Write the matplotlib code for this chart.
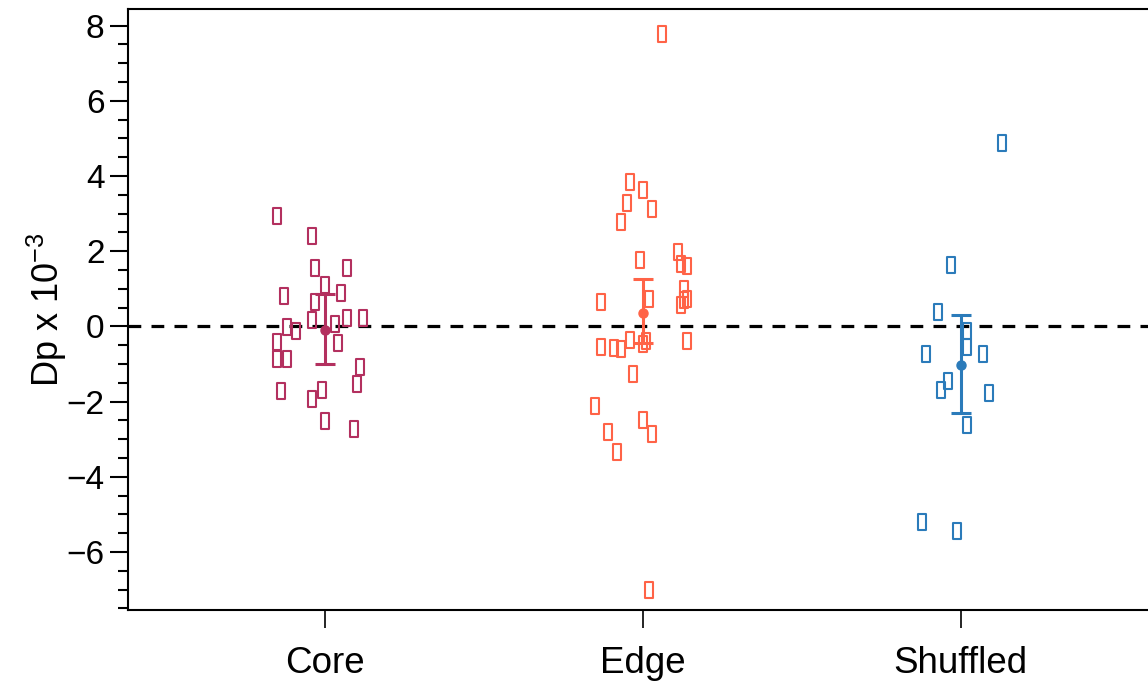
import numpy as np
import matplotlib
matplotlib.use('Agg')
import matplotlib.pyplot as plt
from matplotlib.path import Path

plt.rcParams['font.family'] = ['Liberation Sans', 'DejaVu Sans']
plt.rcParams['mathtext.fontset'] = 'custom'
plt.rcParams['mathtext.rm'] = 'Liberation Sans'
plt.rcParams['mathtext.it'] = 'Liberation Sans:italic'

# groups and colours
groups = ['Core', 'Edge', 'Shuffled']
colors = ['#B3305F', '#FF6347', '#2B7BBA']

# individual values (Dp x 1e-3) and horizontal jitter
core_y = [2.93, 2.40, 1.55, 1.55, 1.09, 0.82, 0.90, 0.66, 0.18, 0.23, 0.22, -0.02, -0.11,
          0.07, -0.42, -0.43, -0.86, -0.86, -1.08, -1.54, -1.72, -1.70, -1.94, -2.52, -2.73]
core_jit = [-0.15, -0.04, -0.03, 0.07, 0.00, -0.13, 0.05, -0.03, -0.04, 0.07, 0.12, -0.12, -0.09,
            0.03, -0.15, 0.04, -0.15, -0.12, 0.11, 0.10, -0.14, -0.01, -0.04, 0.00, 0.09]

edge_y = [7.78, 3.84, 3.62, 3.29, 3.13, 2.77, 1.76, 1.99, 1.67, 1.60, 1.00, 0.66, 0.74, 0.69, 0.74,
          0.58, -0.37, -0.46, -0.39, -0.55, -0.57, -0.59, -0.39, -1.26, -2.11, -2.48, -2.81, -2.85,
          -3.34, -7.00]
edge_jit = [0.06, -0.04, 0.00, -0.05, 0.03, -0.07, -0.01, 0.11, 0.12, 0.14, 0.13, -0.13, 0.02, 0.13,
            0.14, 0.12, -0.04, 0.00, 0.01, -0.13, -0.09, -0.07, 0.14, -0.03, -0.15, 0.00, -0.11, 0.03,
            -0.08, 0.02]

shuf_y = [4.87, 1.62, 0.38, -0.12, -0.55, -0.73, -0.73, -1.44, -1.68, -1.76, -2.61, -5.20, -5.43]
shuf_jit = [0.13, -0.03, -0.07, 0.02, 0.02, -0.11, 0.07, -0.04, -0.06, 0.09, 0.02, -0.12, -0.01]

# summary: mean and error bar limits
means = [-0.10, 0.35, -1.03]
err_low = [-1.01, -0.45, -2.30]
err_high = [0.85, 1.25, 0.31]

values = [core_y, edge_y, shuf_y]
jitters = [core_jit, edge_jit, shuf_jit]

# tall hollow rectangle marker
rect = Path([(-0.5, -1), (0.5, -1), (0.5, 1), (-0.5, 1), (-0.5, -1)],
            [Path.MOVETO, Path.LINETO, Path.LINETO, Path.LINETO, Path.CLOSEPOLY])

fig = plt.figure(figsize=(11.48, 6.81), dpi=100)
ax = fig.add_axes([128 / 1148, 71 / 681, 1 - 128 / 1148, 601 / 681])

ax.axhline(0, color='black', lw=2.3, ls=(0, (4, 3.2)), zorder=1)

for i, (yv, jv, c) in enumerate(zip(values, jitters, colors)):
    pos = i + 1
    ax.plot(pos + np.array(jv), yv, ls='none', marker=rect, markersize=11.5,
            markerfacecolor='none', markeredgecolor=c, markeredgewidth=1.5, zorder=3)
    ax.errorbar([pos], [means[i]],
                yerr=[[means[i] - err_low[i]], [err_high[i] - means[i]]],
                fmt='o', color=c, markersize=6.5, elinewidth=2.2, capsize=7.5,
                capthick=2.2, zorder=4)

ax.set_xlim(0.38, 3.59)
ax.set_ylim(-7.54, 8.44)
ax.set_xticks([1, 2, 3])
ax.set_xticklabels(groups)
ax.set_yticks(np.arange(-6, 9, 2))
ax.set_yticks(np.arange(-7.5, 8.5, 0.5), minor=True)

ax.spines['right'].set_visible(False)
for s in ['left', 'bottom', 'top']:
    ax.spines[s].set_linewidth(1.5)

ax.tick_params(axis='y', which='major', length=13, width=1.5, labelsize=24, pad=4)
ax.tick_params(axis='y', which='minor', length=7, width=1.5)
ax.tick_params(axis='x', which='major', length=13, width=1.2, labelsize=26.5, pad=13)
ax.tick_params(axis='x', which='minor', bottom=False)

ax.set_ylabel('Dp x 10$^{-3}$', fontsize=26)
ax.yaxis.set_label_coords(-0.058, 0.5)

fig.savefig('out.png', dpi=100)
